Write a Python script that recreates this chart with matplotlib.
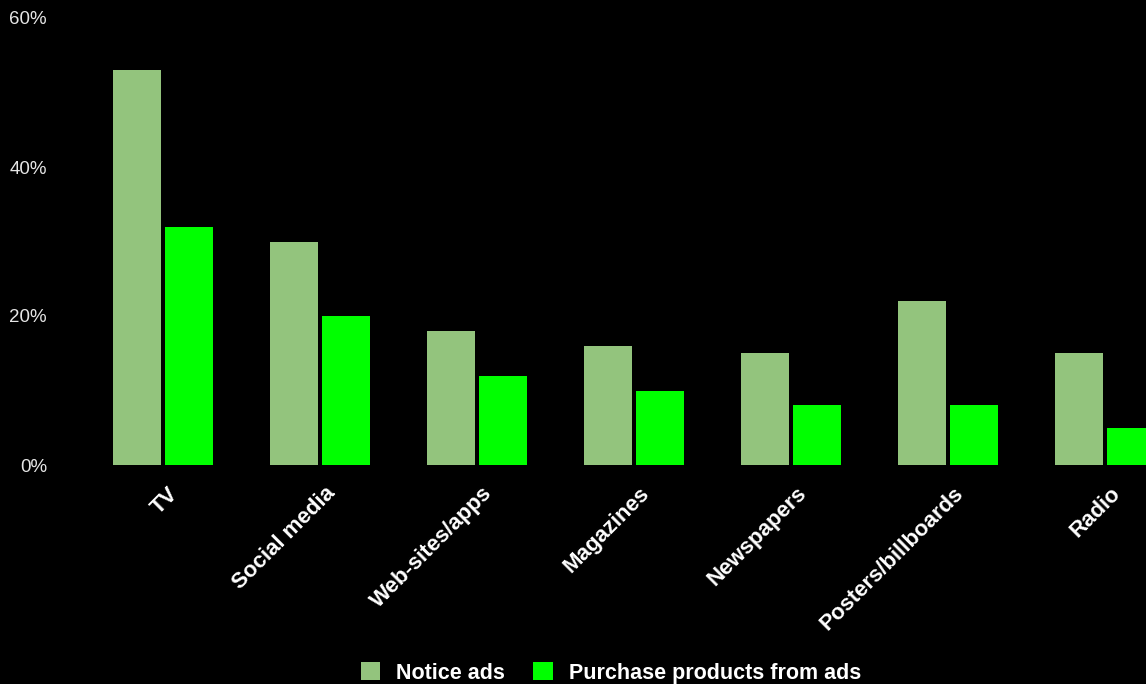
import matplotlib
matplotlib.use("Agg")
import matplotlib.pyplot as plt
import numpy as np
from matplotlib.ticker import FuncFormatter
from matplotlib.transforms import ScaledTranslation

categories = ["TV", "Social media", "Web-sites/apps", "Magazines", "Newspapers",
              "Posters/billboards", "Radio"]
notice_ads = [53, 30, 18, 16, 15, 22, 15]
purchase_ads = [32, 20, 12, 10, 8, 8, 5]
series_names = ["Notice ads", "Purchase products from ads"]
y_ticks = [0, 20, 40, 60]

plt.rcParams['font.family'] = ['Liberation Sans', 'DejaVu Sans']

fig = plt.figure(figsize=(11.46, 6.84), dpi=100, facecolor="black")
ax = fig.add_axes([84.5 / 1146, 219 / 684, 1099 / 1146, 447 / 684])
ax.set_facecolor("black")

x = np.arange(len(categories))
w = 0.31
ax.bar(x - 0.165, notice_ads, width=w, color="#93c47d", label=series_names[0])
ax.bar(x + 0.165, purchase_ads, width=w, color="#00ff00", label=series_names[1])

ax.set_xlim(-0.5, len(categories) - 0.5)
ax.set_ylim(0, 60)
ax.set_yticks(y_ticks)
ax.yaxis.set_major_formatter(FuncFormatter(lambda v, p: f"{int(v)}%"))
ax.tick_params(axis="y", length=0, pad=27, labelsize=13.5, labelcolor="#e6e6e6")
ax.set_xticks(x)
ax.set_xticklabels(categories, rotation=45, ha="right", rotation_mode="anchor",
                   fontsize=16, fontweight="bold", color="white")
ax.tick_params(axis="x", length=0, pad=13)
offset = ScaledTranslation(5 / 100, 0, fig.dpi_scale_trans)
for lbl in ax.get_xticklabels():
    lbl.set_transform(lbl.get_transform() + offset)
for s in ax.spines.values():
    s.set_visible(False)

fig.legend(loc="center", bbox_to_anchor=(611 / 1146, 11 / 684), ncol=2, frameon=False,
           prop={"size": 15.5, "weight": "bold"}, labelcolor="white",
           handlelength=0.9, handleheight=0.9, handletextpad=0.75, columnspacing=1.3)

fig.savefig("out.png", dpi=100, facecolor="black")
